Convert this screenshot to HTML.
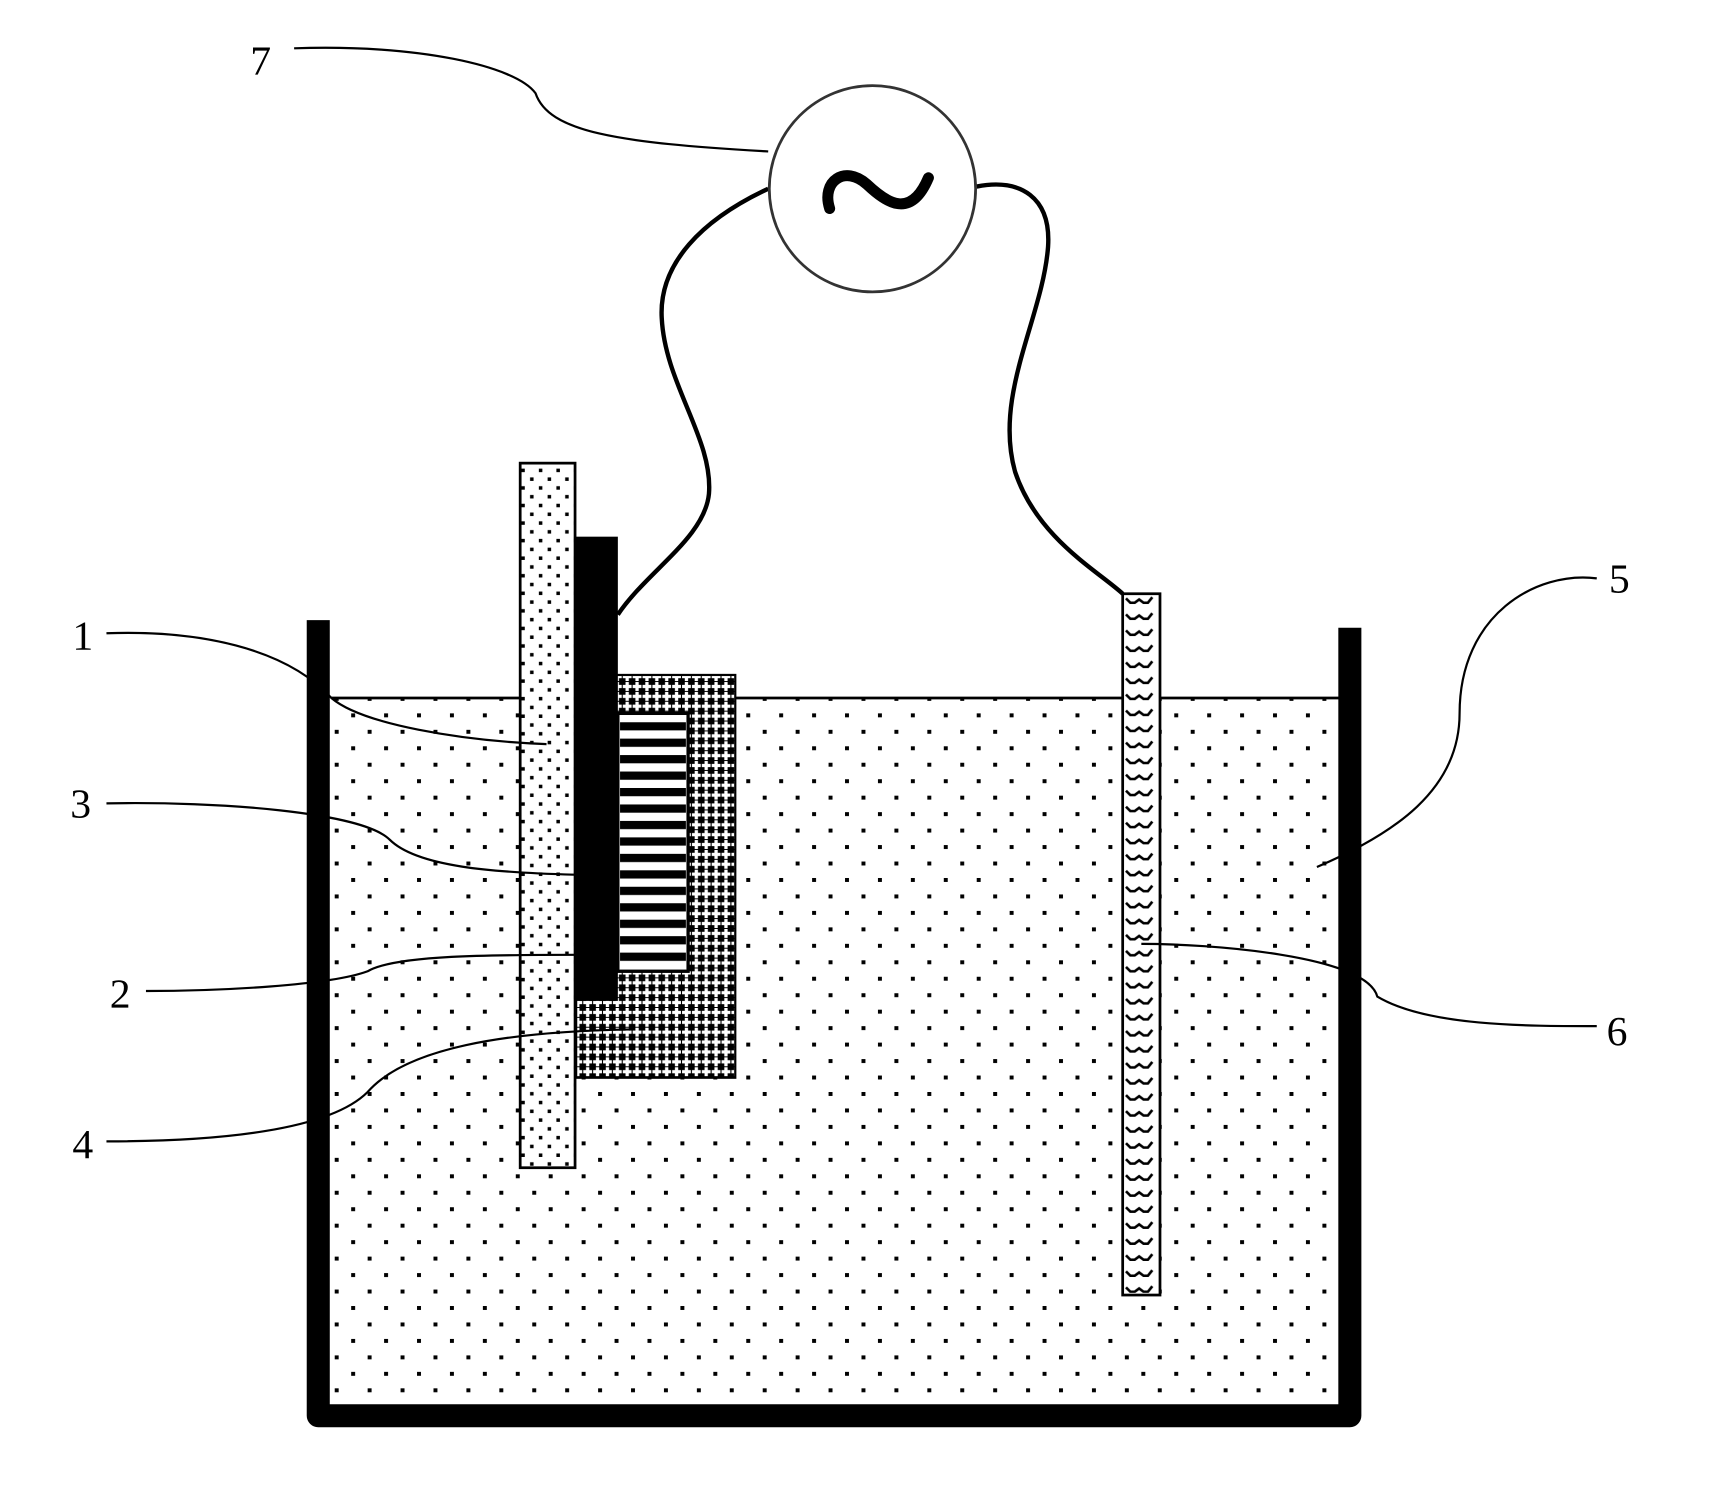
<!DOCTYPE html>
<html><head><meta charset="utf-8"><style>html,body{margin:0;padding:0;background:#fff}svg{display:block}</style></head>
<body>
<svg width="1712" height="1486" viewBox="0 0 1560 1354" preserveAspectRatio="none" xmlns="http://www.w3.org/2000/svg">
<defs>
<pattern id="liq" width="30" height="30" patternUnits="userSpaceOnUse">
<rect x="5" y="5" width="3.6" height="3.6" fill="#000"/><rect x="20" y="20" width="3.6" height="3.6" fill="#000"/>
</pattern>
<pattern id="s1" width="16" height="16" patternUnits="userSpaceOnUse">
<rect x="3" y="3" width="3.2" height="3.2" fill="#000"/><rect x="11" y="11" width="3.2" height="3.2" fill="#000"/>
</pattern>
<pattern id="xh" width="9" height="9" patternUnits="userSpaceOnUse">
<rect width="9" height="9" fill="#000"/>
<path d="M3 0.5h3v2.5h2.5v3h-2.5v2.5h-3v-2.5h-2.5v-3h2.5z" fill="#fff"/>
</pattern>
<pattern id="wav" width="34" height="14.6" patternUnits="userSpaceOnUse">
<path d="M6 5 l4 4 h4 l4 -3 l4 3 h4 l4 -5" fill="none" stroke="#000" stroke-width="2.4"/>
</pattern>
<pattern id="str" width="15" height="15" patternUnits="userSpaceOnUse" y="658">
<rect width="15" height="7.5" fill="#000"/>
</pattern>
</defs>
<rect x="302" y="636" width="918" height="646" fill="url(#liq)"/>
<line x1="302" y1="636" x2="1220" y2="636" stroke="#000" stroke-width="2.5"/>
<path d="M290 565 V1290 H1230 V572" fill="none" stroke="#000" stroke-width="21" stroke-linejoin="round"/>
<rect x="525" y="615" width="145" height="367" fill="url(#xh)" stroke="#000" stroke-width="2"/>
<rect x="563" y="650" width="64" height="235" fill="#fff" stroke="#000" stroke-width="3"/>
<rect x="565" y="658" width="60" height="225" fill="url(#str)"/>
<rect x="474" y="422" width="50" height="642" fill="#fff" stroke="#000" stroke-width="2.5"/>
<rect x="474" y="422" width="50" height="642" fill="url(#s1)"/>
<rect x="523" y="489" width="40" height="423" fill="#000"/>
<rect x="1023" y="541" width="34" height="639" fill="#fff" stroke="#000" stroke-width="2.5"/>
<rect x="1025" y="543" width="30" height="635" fill="url(#wav)"/>
<path d="M700 172 C640 200 600 240 603 290 C606 350 650 400 646 450 C642 490 590 520 563 560" fill="none" stroke="#000" stroke-width="4"/>
<path d="M890 170 C930 162 958 180 955 225 C950 290 905 360 925 430 C945 490 1000 520 1023 541" fill="none" stroke="#000" stroke-width="4"/>
<circle cx="795" cy="172" r="94" fill="#fff" stroke="#333" stroke-width="2.5"/>
<path d="M756 190 C748 165 770 150 790 168 C808 185 830 200 846 162" fill="none" stroke="#000" stroke-width="10" stroke-linecap="round"/>
<g fill="none" stroke="#000" stroke-width="2">
<path d="M268 44 C380 40 470 60 488 85 C500 120 560 130 700 138"/>
<path d="M97 577 C180 574 260 590 302 636 C330 660 420 675 498 678"/>
<path d="M97 732 C200 730 330 740 355 765 C380 790 450 795 523 797"/>
<path d="M133 903 C200 903 300 898 335 885 C360 870 450 870 525 870"/>
<path d="M97 1040 C200 1040 300 1030 335 995 C370 955 460 940 574 938"/>
<path d="M1455 527 C1400 520 1330 560 1330 650 C1330 720 1270 760 1200 790"/>
<path d="M1455 935 C1390 935 1300 935 1255 908 C1245 870 1100 860 1040 860"/>
</g>
<g font-family="Liberation Serif, serif" font-size="38" fill="#000">
<text x="228" y="68">7</text>
<text x="66" y="592">1</text>
<text x="64" y="745">3</text>
<text x="100" y="918">2</text>
<text x="66" y="1055">4</text>
<text x="1466" y="540">5</text>
<text x="1464" y="952">6</text>
</g>
</svg>
</body></html>
